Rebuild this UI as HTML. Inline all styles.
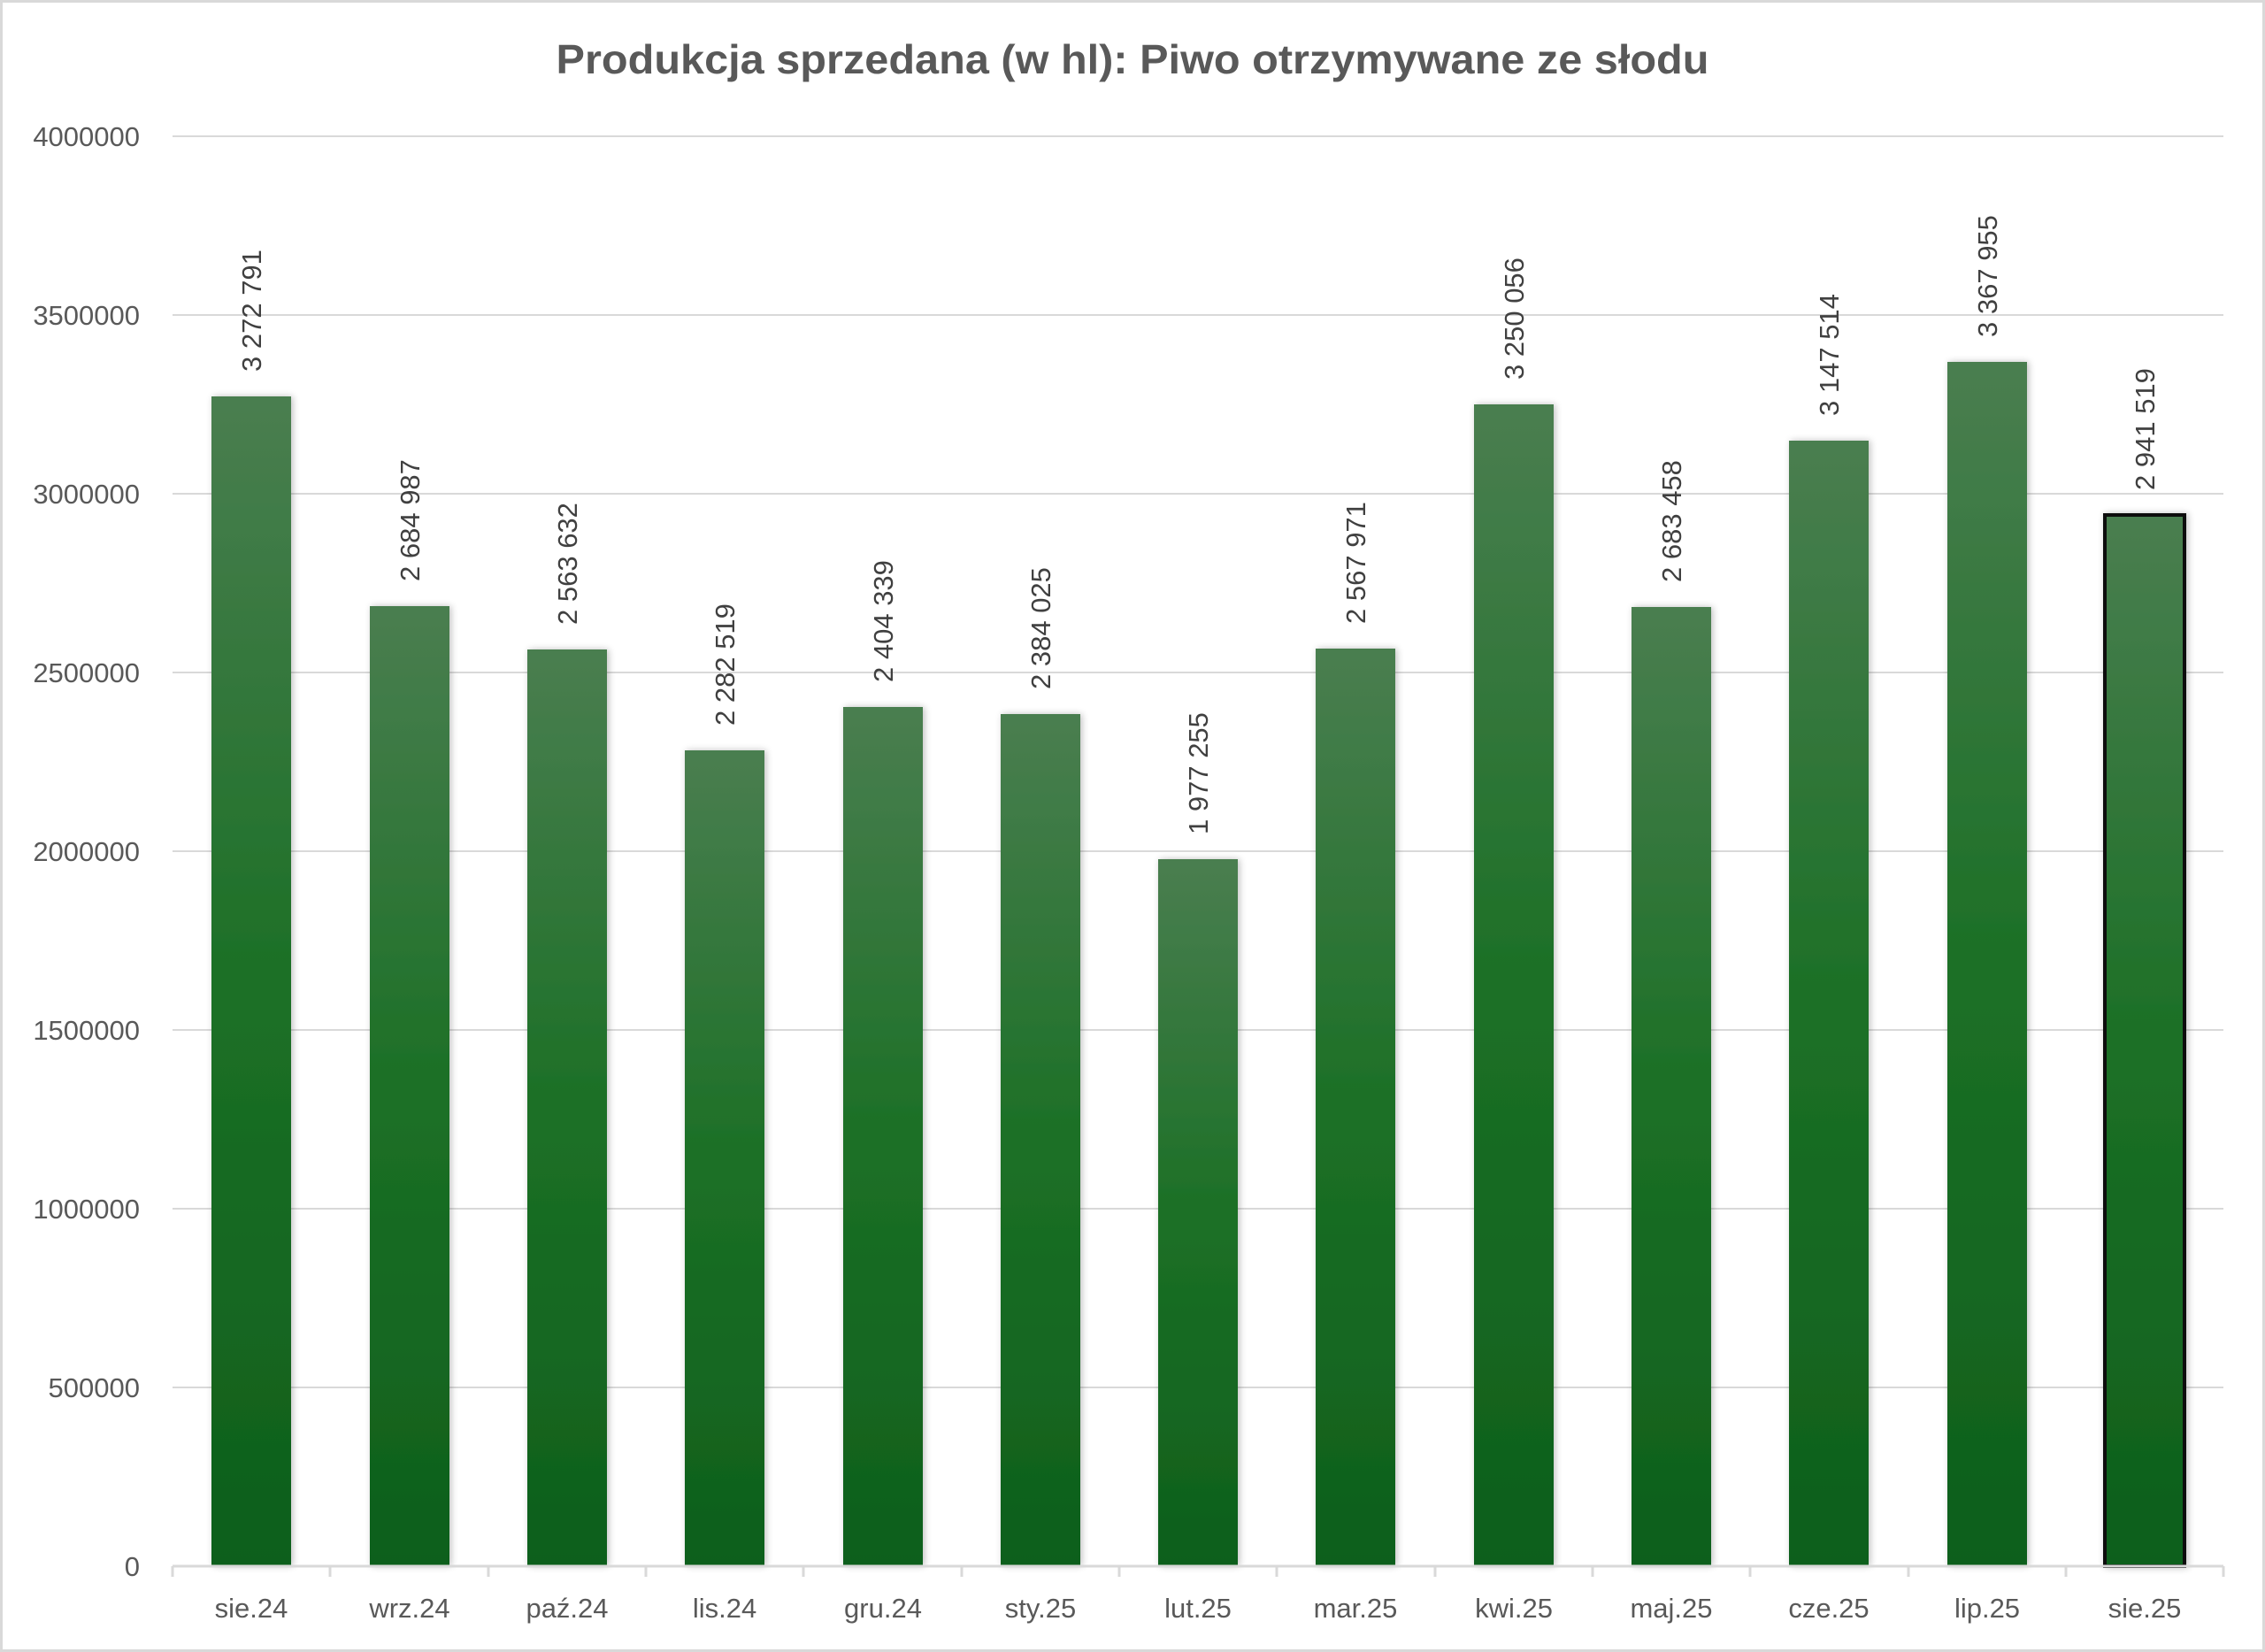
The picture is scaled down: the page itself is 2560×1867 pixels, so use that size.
<!DOCTYPE html>
<html><head><meta charset="utf-8"><style>html,body{margin:0;padding:0;background:#fff}svg{display:block}</style></head>
<body>
<svg width="2560" height="1867" viewBox="0 0 2560 1867" xmlns="http://www.w3.org/2000/svg" font-family="Liberation Sans, sans-serif">
<defs>
<linearGradient id="g" x1="0" y1="0" x2="0" y2="1">
<stop offset="0" stop-color="#4a7e50"/>
<stop offset="0.5" stop-color="#1c7026"/>
<stop offset="1" stop-color="#0e5f1c"/>
</linearGradient>
<filter id="sh" x="-20%" y="-5%" width="140%" height="110%"><feGaussianBlur in="SourceAlpha" stdDeviation="4"/><feOffset dx="2" dy="0"/><feComponentTransfer><feFuncA type="linear" slope="0.25"/></feComponentTransfer><feMerge><feMergeNode/><feMergeNode in="SourceGraphic"/></feMerge></filter>
</defs>
<rect x="1.5" y="1.5" width="2557" height="1864" fill="#fff" stroke="#d9d9d9" stroke-width="3"/>
<text x="1280" y="83" text-anchor="middle" font-size="46" font-weight="bold" fill="#595959" textLength="1303" lengthAdjust="spacingAndGlyphs">Produkcja sprzedana (w hl): Piwo otrzymywane ze słodu</text>
<g stroke="#d9d9d9" stroke-width="2">
<line x1="195" x2="2513" y1="154" y2="154"/><line x1="195" x2="2513" y1="356" y2="356"/><line x1="195" x2="2513" y1="558" y2="558"/><line x1="195" x2="2513" y1="760" y2="760"/><line x1="195" x2="2513" y1="962" y2="962"/><line x1="195" x2="2513" y1="1164" y2="1164"/><line x1="195" x2="2513" y1="1366" y2="1366"/><line x1="195" x2="2513" y1="1568" y2="1568"/>
</g>
<g font-size="31" fill="#595959" text-anchor="end">
<text x="158" y="165">4000000</text><text x="158" y="367">3500000</text><text x="158" y="569">3000000</text><text x="158" y="771">2500000</text><text x="158" y="973">2000000</text><text x="158" y="1175">1500000</text><text x="158" y="1377">1000000</text><text x="158" y="1579">500000</text><text x="158" y="1781">0</text>
</g>
<g id="bars" filter="url(#sh)" fill="url(#g)">
<rect x="239" y="448" width="90" height="1322"/>
<rect x="418" y="685" width="90" height="1085"/>
<rect x="596" y="734" width="90" height="1036"/>
<rect x="774" y="848" width="90" height="922"/>
<rect x="953" y="799" width="90" height="971"/>
<rect x="1131" y="807" width="90" height="963"/>
<rect x="1309" y="971" width="90" height="799"/>
<rect x="1487" y="733" width="90" height="1037"/>
<rect x="1666" y="457" width="90" height="1313"/>
<rect x="1844" y="686" width="90" height="1084"/>
<rect x="2022" y="498" width="90" height="1272"/>
<rect x="2201" y="409" width="90" height="1361"/>
<rect x="2379" y="582" width="90" height="1188" stroke="#111" stroke-width="4"/>
</g>
<g stroke="#d9d9d9" stroke-width="3">
<line x1="195" x2="2513" y1="1770" y2="1770"/>
<line x1="195" x2="195" y1="1770" y2="1782"/><line x1="373" x2="373" y1="1770" y2="1782"/><line x1="552" x2="552" y1="1770" y2="1782"/><line x1="730" x2="730" y1="1770" y2="1782"/><line x1="908" x2="908" y1="1770" y2="1782"/><line x1="1087" x2="1087" y1="1770" y2="1782"/><line x1="1265" x2="1265" y1="1770" y2="1782"/><line x1="1443" x2="1443" y1="1770" y2="1782"/><line x1="1622" x2="1622" y1="1770" y2="1782"/><line x1="1800" x2="1800" y1="1770" y2="1782"/><line x1="1978" x2="1978" y1="1770" y2="1782"/><line x1="2157" x2="2157" y1="1770" y2="1782"/><line x1="2335" x2="2335" y1="1770" y2="1782"/><line x1="2513" x2="2513" y1="1770" y2="1782"/>
</g>
<g font-size="31" fill="#595959" text-anchor="middle">
<text x="284" y="1828">sie.24</text><text x="463" y="1828">wrz.24</text><text x="641" y="1828">paź.24</text><text x="819" y="1828">lis.24</text><text x="998" y="1828">gru.24</text><text x="1176" y="1828">sty.25</text><text x="1354" y="1828">lut.25</text><text x="1532" y="1828">mar.25</text><text x="1711" y="1828">kwi.25</text><text x="1889" y="1828">maj.25</text><text x="2067" y="1828">cze.25</text><text x="2246" y="1828">lip.25</text><text x="2424" y="1828">sie.25</text>
</g>
<g font-size="31" fill="#404040">
<text transform="translate(295,420) rotate(-90)">3 272 791</text>
<text transform="translate(474,657) rotate(-90)">2 684 987</text>
<text transform="translate(652,706) rotate(-90)">2 563 632</text>
<text transform="translate(830,820) rotate(-90)">2 282 519</text>
<text transform="translate(1009,771) rotate(-90)">2 404 339</text>
<text transform="translate(1187,779) rotate(-90)">2 384 025</text>
<text transform="translate(1365,943) rotate(-90)">1 977 255</text>
<text transform="translate(1543,705) rotate(-90)">2 567 971</text>
<text transform="translate(1722,429) rotate(-90)">3 250 056</text>
<text transform="translate(1900,658) rotate(-90)">2 683 458</text>
<text transform="translate(2078,470) rotate(-90)">3 147 514</text>
<text transform="translate(2257,381) rotate(-90)">3 367 955</text>
<text transform="translate(2435,554) rotate(-90)">2 941 519</text>
</g>
</svg>
</body></html>
